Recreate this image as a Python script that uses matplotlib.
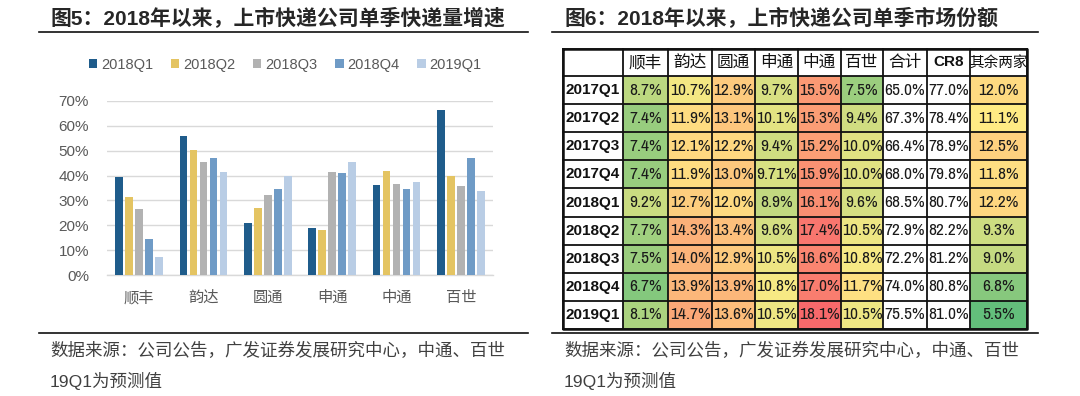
import matplotlib
matplotlib.use("Agg")
import matplotlib.pyplot as plt
import matplotlib.font_manager as fm
from matplotlib.font_manager import FontProperties
from matplotlib.patches import Rectangle
import numpy as np

plt.rcParams['font.family'] = ['Liberation Sans', 'Noto Sans CJK SC', 'DejaVu Sans']

# ---- 数据：左图 快递量增速 ----
companies = ['顺丰', '韵达', '圆通', '申通', '中通', '百世']
quarters = ['2018Q1', '2018Q2', '2018Q3', '2018Q4', '2019Q1']
growth_18q1 = [0.393, 0.557, 0.208, 0.188, 0.362, 0.663]
growth_18q2 = [0.315, 0.501, 0.270, 0.182, 0.419, 0.399]
growth_18q3 = [0.264, 0.454, 0.322, 0.413, 0.366, 0.357]
growth_18q4 = [0.144, 0.469, 0.347, 0.410, 0.345, 0.472]
growth_19q1 = [0.072, 0.414, 0.399, 0.453, 0.375, 0.337]
bar_colors = ['#1F5C8B', '#E4C462', '#B2B2B2', '#6F9BC6', '#B9CDE5']

# ---- 数据：右图 市场份额 (%) ----
row_labels = ['2017Q1', '2017Q2', '2017Q3', '2017Q4', '2018Q1',
              '2018Q2', '2018Q3', '2018Q4', '2019Q1']
col_labels = ['顺丰', '韵达', '圆通', '申通', '中通', '百世', '合计', 'CR8', '其余两家']
share_sf = [8.7, 7.4, 7.4, 7.4, 9.2, 7.7, 7.5, 6.7, 8.1]
share_yd = [10.7, 11.9, 12.1, 11.9, 12.7, 14.3, 14.0, 13.9, 14.7]
share_yt = [12.9, 13.1, 12.2, 13.0, 12.0, 13.4, 12.9, 13.9, 13.6]
share_st = [9.7, 10.1, 9.4, 9.71, 8.9, 9.6, 10.5, 10.8, 10.5]
share_zt = [15.5, 15.3, 15.2, 15.9, 16.1, 17.4, 16.6, 17.0, 18.1]
share_bs = [7.5, 9.4, 10.0, 10.0, 9.6, 10.5, 10.8, 11.7, 10.5]
share_total = [65.0, 67.3, 66.4, 68.0, 68.5, 72.9, 72.2, 74.0, 75.5]
share_cr8 = [77.0, 78.4, 78.9, 79.8, 80.7, 82.2, 81.2, 80.8, 81.0]
share_other2 = [12.0, 11.1, 12.5, 11.8, 12.2, 9.3, 9.0, 6.8, 5.5]

fig = plt.figure(figsize=(10.8, 3.96), dpi=100)
W, H = 1080, 396

# 覆盖层：标题、横线、注释
ov = fig.add_axes([0, 0, 1, 1])
ov.set_xlim(0, W)
ov.set_ylim(H, 0)
ov.axis('off')

title_font = ['Liberation Sans', 'Noto Sans CJK SC']
ov.text(50, 18, '图5：2018年以来，上市快递公司单季快递量增速', fontsize=15,
        fontweight='bold', family=title_font, color='#262626', va='center')
ov.text(564, 18, '图6：2018年以来，上市快递公司单季市场份额', fontsize=15,
        fontweight='bold', family=title_font, color='#262626', va='center')
for x0, x1 in [(39, 528), (552, 1038)]:
    ov.plot([x0, x1], [32, 32], color='#111111', lw=1.2)
    ov.plot([x0, x1], [333, 333], color='#111111', lw=1.2)
foot1 = '数据来源：公司公告，广发证券发展研究中心，中通、百世'
foot2 = '19Q1为预测值'
for x0 in [50, 564]:
    ov.text(x0, 351, foot1, fontsize=12.6, color='#404040', va='center',
            family=['Noto Sans CJK SC'])
    ov.text(x0, 381, foot2, fontsize=12.6, color='#404040', va='center',
            family=['Liberation Sans', 'Noto Sans CJK SC'])

# ---- 左图：分组柱状图 ----
ax = fig.add_axes([107 / W, 1 - 275.3 / H, 386 / W, 174.6 / H])
series = [growth_18q1, growth_18q2, growth_18q3, growth_18q4, growth_19q1]
x = np.arange(len(companies))
pitch = 0.155
handles = []
for i, (vals, c, q) in enumerate(zip(series, bar_colors, quarters)):
    h = ax.bar(x + (i - 2) * pitch, vals, width=0.12, color=c, label=q, zorder=3)
    handles.append(h)
ax.set_xlim(-0.5, 5.5)
ax.set_ylim(0, 0.7)
ax.set_yticks(np.arange(0, 0.71, 0.1))
ax.set_yticklabels([f'{int(round(v * 100))}%' for v in np.arange(0, 0.71, 0.1)])
ax.set_xticks(x)
ax.set_xticklabels(companies, family=['Noto Sans CJK SC'], fontsize=11)
ax.tick_params(axis='y', length=0, labelsize=11, labelcolor='#595959', pad=13)
ax.tick_params(axis='x', length=0, labelcolor='#595959', pad=10)
ax.grid(axis='y', color='#D9D9D9', lw=1.0, zorder=0)
for s in ['top', 'right', 'left']:
    ax.spines[s].set_visible(False)
ax.spines['bottom'].set_color('#D9D9D9')
ax.spines['bottom'].set_linewidth(1.0)
fig.legend(handles=handles, labels=quarters, loc='center',
           bbox_to_anchor=(285 / W, 1 - 65 / H), ncol=5, frameon=False,
           fontsize=10.5, labelcolor='#595959', handlelength=0.6,
           handleheight=0.6, handletextpad=0.25, columnspacing=1.2)

# ---- 右图：市场份额表 ----
col_w = [60, 45, 44, 43, 43, 43, 42, 44, 43, 57]
row_h = [27] + [253 / 9] * 9
col_edges = np.concatenate([[0], np.cumsum(col_w)])
row_edges = np.concatenate([[0], np.cumsum(row_h)])
tx = fig.add_axes([563 / W, 1 - 329 / H, col_edges[-1] / W, row_edges[-1] / H])
tx.set_xlim(0, col_edges[-1])
tx.set_ylim(row_edges[-1], 0)
tx.axis('off')

columns = [share_sf, share_yd, share_yt, share_st, share_zt, share_bs,
           share_total, share_cr8, share_other2]
colored = [0, 1, 2, 3, 4, 5, 8]
pool = np.array([columns[j] for j in colored]).ravel()
vmin, vmid, vmax = pool.min(), np.percentile(pool, 50), pool.max()
c_lo = np.array([99, 190, 123]) / 255
c_mid = np.array([255, 235, 132]) / 255
c_hi = np.array([248, 105, 107]) / 255


def scale_color(v):
    if v <= vmid:
        t = (v - vmin) / (vmid - vmin)
        return c_lo + (c_mid - c_lo) * t
    t = (v - vmid) / (vmax - vmid)
    return c_mid + (c_hi - c_mid) * t


# 找窄体字体（常规 + 粗体），没有就用普通 Liberation Sans
fp_num = FontProperties(family=['Liberation Sans'], size=10.5)
fp_lab = FontProperties(family=['Liberation Sans'], weight='bold', size=11)
narrow = [f for f in fm.fontManager.ttflist
          if ('Narrow' in f.name or 'Condensed' in f.name
              or str(f.stretch) in ('condensed', 'semi-condensed'))
          and 'Mono' not in f.name and 'Serif' not in f.name
          and f.style == 'normal']
if narrow:
    names = sorted({f.name for f in narrow},
                   key=lambda n: ('Liberation' not in n, n))
    nm = names[0]
    regs = [f for f in narrow if f.name == nm and f.weight in (400, 'normal', 'regular')]
    bolds = [f for f in narrow if f.name == nm and f.weight in (700, 'bold')]
    if regs:
        fp_num = FontProperties(fname=regs[0].fname, size=12.5)
    if bolds:
        fp_lab = FontProperties(fname=bolds[0].fname, size=12)

# 表头
for j, lab in enumerate(col_labels):
    cx = (col_edges[j + 1] + col_edges[j + 2]) / 2
    cy = row_h[0] / 2
    if lab == 'CR8':
        tx.text(cx, cy, lab, ha='center', va='center', fontproperties=fp_lab,
                color='#111111')
    else:
        tx.text(cx, cy, lab, ha='center', va='center', family=['Noto Sans CJK SC'],
                fontsize=10.5 if len(lab) > 2 else 12, color='#111111')

for i, rl in enumerate(row_labels):
    y0, y1 = row_edges[i + 1], row_edges[i + 2]
    cy = (y0 + y1) / 2
    tx.text(col_w[0] / 2, cy, rl, ha='center', va='center', fontproperties=fp_lab,
            color='#111111')
    for j, col in enumerate(columns):
        v = col[i]
        x0, x1 = col_edges[j + 1], col_edges[j + 2]
        if j in colored:
            tx.add_patch(Rectangle((x0, y0), x1 - x0, y1 - y0,
                                   facecolor=scale_color(v), edgecolor='none'))
        txt = f'{v:.2f}%' if round(v, 1) != v else f'{v:.1f}%'
        tx.text((x0 + x1) / 2, cy, txt, ha='center', va='center',
                fontproperties=fp_num, color='#1a1a1a')

for xe in col_edges:
    tx.plot([xe, xe], [0, row_edges[-1]], color='#111111', lw=1.3, clip_on=False)
for ye in row_edges:
    tx.plot([0, col_edges[-1]], [ye, ye], color='#111111', lw=1.3, clip_on=False)
tx.plot([0, col_edges[-1], col_edges[-1], 0, 0],
        [0, 0, row_edges[-1], row_edges[-1], 0], color='#111111', lw=1.8,
        clip_on=False)

fig.savefig('out.png', dpi=100)
